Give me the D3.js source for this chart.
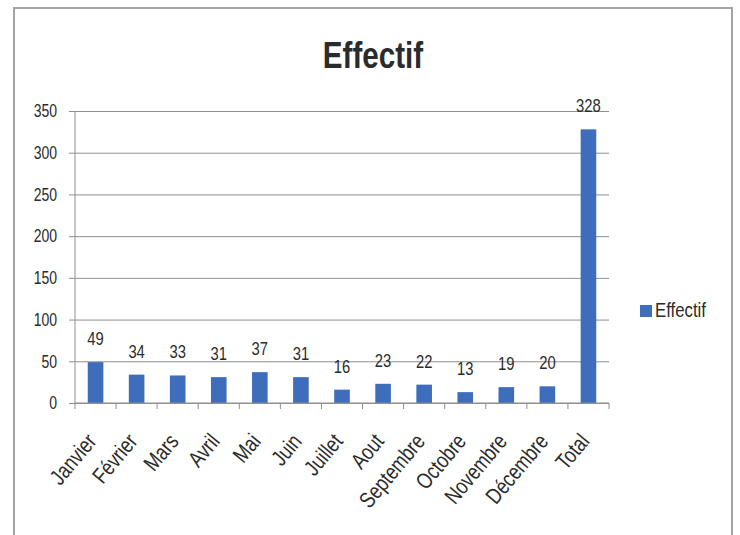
<!DOCTYPE html>
<html>
<head>
<meta charset="utf-8">
<script src="https://cdn.jsdelivr.net/npm/d3@7"></script>
<style>
  html, body { margin: 0; padding: 0; background: #fff; }
  svg { display: block; }
  text { font-family: "Liberation Sans", Arial, sans-serif; fill: #2b2b2b; }
</style>
</head>
<body>
<svg id="chart" width="740" height="535"></svg>
<script>
// Monthly head count plus the yearly total
const categories = ["Janvier", "Février", "Mars", "Avril", "Mai", "Juin", "Juillet",
  "Aout", "Septembre", "Octobre", "Novembre", "Décembre", "Total"];
const effectif = [49, 34, 33, 31, 37, 31, 16, 23, 22, 13, 19, 20, 328];
const yTicks = [0, 50, 100, 150, 200, 250, 300, 350];
const seriesName = "Effectif";
const chartTitle = "Effectif";

const svg = d3.select("#chart");
const plot = { left: 75, right: 609, top: 111, bottom: 403 };
const barColor = "#3d6dbb";
const gridColor = "#8f8f8f";
const squeeze = 0.8;   // condensed lettering

// outer frame
svg.append("path")
  .attr("d", "M14,540 V8 H732 V540")
  .attr("fill", "none")
  .attr("stroke", "#a3a3a3")
  .attr("stroke-width", 2);

const x = d3.scaleBand()
  .domain(categories)
  .range([plot.left, plot.right])
  .paddingInner(0.62)
  .paddingOuter(0.31);

const y = d3.scaleLinear()
  .domain([0, 350])
  .range([plot.bottom, plot.top]);

// horizontal gridlines with small ticks to the left
const yAxis = d3.axisLeft(y)
  .tickValues(yTicks)
  .tickSize(-(plot.right - plot.left))
  .tickFormat("");

const gy = svg.append("g")
  .attr("transform", `translate(${plot.left},0)`)
  .call(yAxis);
gy.select(".domain").remove();
gy.selectAll(".tick line")
  .attr("x1", -6)
  .attr("stroke", gridColor)
  .attr("stroke-width", 1);
gy.selectAll(".tick text").remove();

// y tick labels
svg.append("g")
  .selectAll("text")
  .data(yTicks)
  .join("text")
  .attr("transform", d => `translate(57,${y(d)}) scale(${squeeze},1)`)
  .attr("dy", "0.36em")
  .attr("text-anchor", "end")
  .style("font-size", "17.5px")
  .text(d3.format("d"));

// vertical axis line
svg.append("line")
  .attr("x1", plot.left).attr("x2", plot.left)
  .attr("y1", plot.top).attr("y2", plot.bottom)
  .attr("stroke", gridColor);

// bars
svg.append("g")
  .selectAll("rect")
  .data(effectif)
  .join("rect")
  .attr("x", (d, i) => x(categories[i]))
  .attr("y", d => y(d))
  .attr("width", x.bandwidth())
  .attr("height", d => y(0) - y(d))
  .attr("fill", barColor);

// category axis with ticks between categories
const step = x.step();
const gx = svg.append("g").attr("class", "x-axis");
gx.append("line")
  .attr("x1", plot.left).attr("x2", plot.right)
  .attr("y1", plot.bottom).attr("y2", plot.bottom)
  .attr("stroke", gridColor);
gx.selectAll("line.tick")
  .data(d3.range(categories.length + 1))
  .join("line")
  .attr("class", "tick")
  .attr("x1", i => plot.left + i * step)
  .attr("x2", i => plot.left + i * step)
  .attr("y1", plot.bottom)
  .attr("y2", plot.bottom + 6)
  .attr("stroke", gridColor);
gx.selectAll("text")
  .data(categories)
  .join("text")
  .attr("text-anchor", "end")
  .attr("transform", d => `translate(${x(d) + x.bandwidth() / 2 + 2},${plot.bottom + 39}) rotate(-50) scale(${squeeze},1)`)
  .style("font-size", "22.5px")
  .text(d => d);

// value labels above bars
svg.append("g")
  .selectAll("text")
  .data(effectif)
  .join("text")
  .attr("transform", (d, i) => `translate(${x(categories[i]) + x.bandwidth() / 2},${y(d) - 17}) scale(${squeeze},1)`)
  .attr("text-anchor", "middle")
  .style("font-size", "18.5px")
  .text(d => d);

// title
svg.append("text")
  .attr("transform", `translate(373,68) scale(${squeeze},1)`)
  .attr("text-anchor", "middle")
  .style("font-size", "37px")
  .style("font-weight", "bold")
  .attr("fill", "#111")
  .text(chartTitle);

// legend
const legend = svg.append("g").attr("transform", "translate(640,305)");
legend.append("rect")
  .attr("width", 12).attr("height", 12)
  .attr("fill", barColor);
legend.append("text")
  .attr("transform", `translate(15,12) scale(${squeeze},1)`)
  .style("font-size", "21px")
  .text(seriesName);
</script>
</body>
</html>
